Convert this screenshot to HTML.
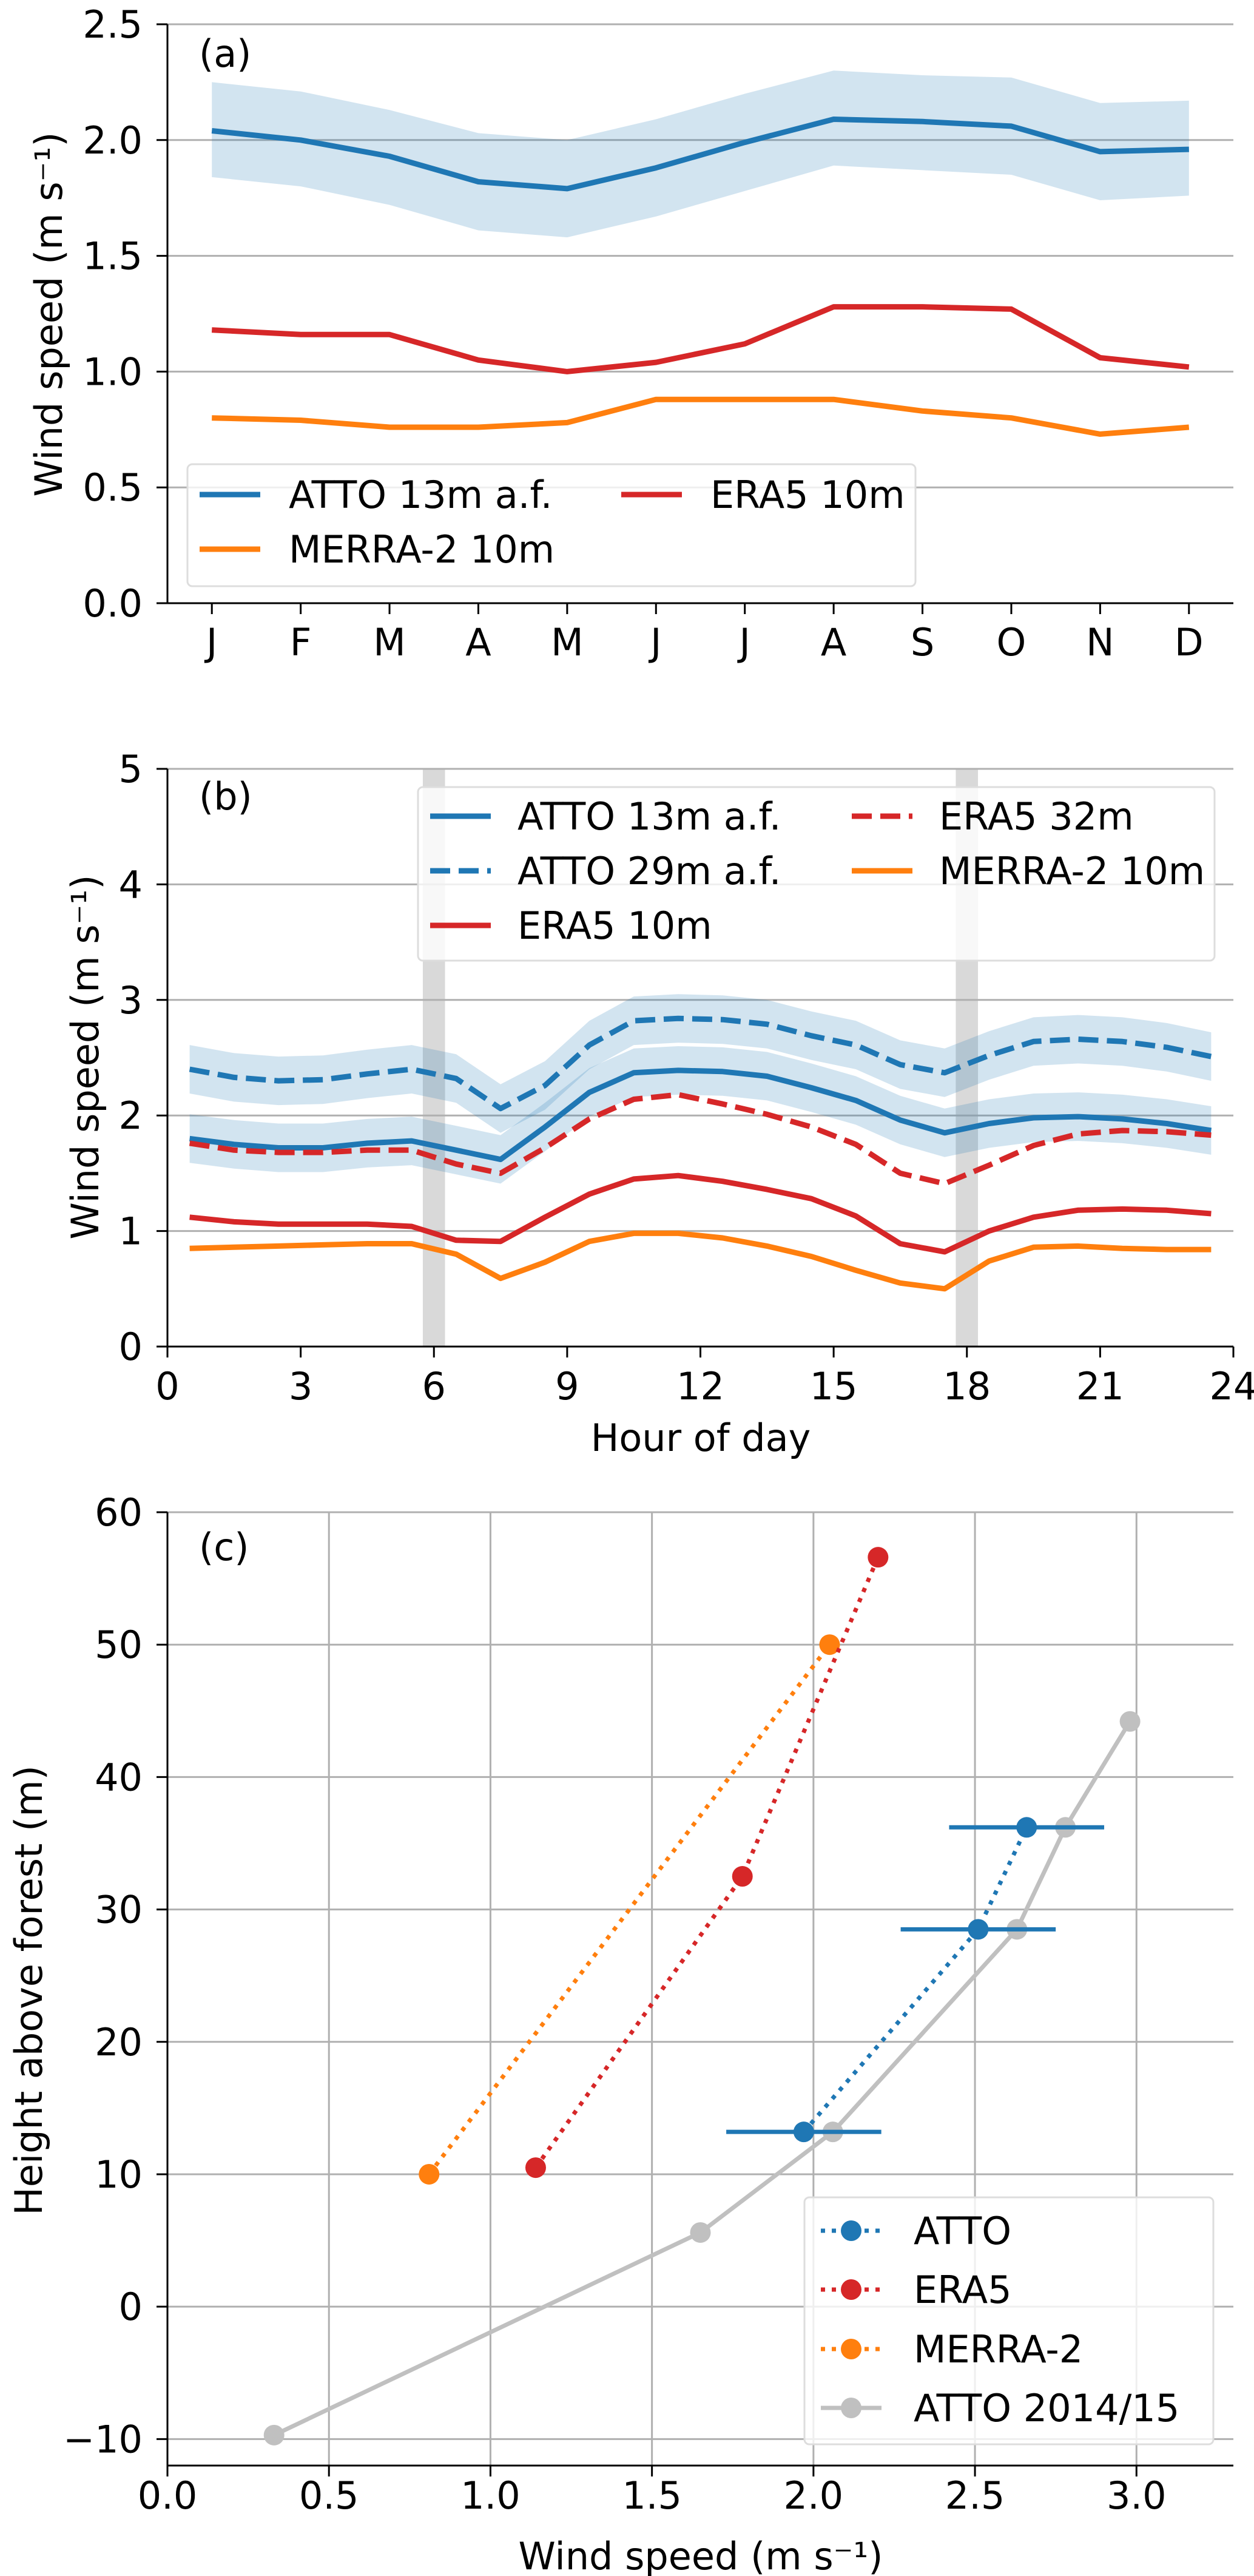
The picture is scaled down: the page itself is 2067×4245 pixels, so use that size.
<!DOCTYPE html>
<html><head><meta charset="utf-8">
<style>
html,body{margin:0;padding:0;background:#fff;}
svg{display:block;font-family:"DejaVu Sans","Liberation Sans",sans-serif;}
</style></head>
<body>
<svg id="fig" width="2067" height="4245" viewBox="0 0 2067 4245" xmlns="http://www.w3.org/2000/svg"></svg>
<script>
// ---- Panel (a) data ----
const months = ["J","F","M","A","M","J","J","A","S","O","N","D"];
const aAtto = [2.04,2.00,1.93,1.82,1.79,1.88,1.99,2.09,2.08,2.06,1.95,1.96];
const aAttoHi = [2.25,2.21,2.13,2.03,2.00,2.09,2.20,2.30,2.28,2.27,2.16,2.17];
const aAttoLo = [1.84,1.80,1.72,1.61,1.58,1.67,1.78,1.89,1.87,1.85,1.74,1.76];
const aEra10 = [1.18,1.16,1.16,1.05,1.00,1.04,1.12,1.28,1.28,1.27,1.06,1.02];
const aMerra = [0.80,0.79,0.76,0.76,0.78,0.88,0.88,0.88,0.83,0.80,0.73,0.76];
const aYTicks = [0,0.5,1.0,1.5,2.0,2.5];
// ---- Panel (b) data ----
const hours = [0.5,1.5,2.5,3.5,4.5,5.5,6.5,7.5,8.5,9.5,10.5,11.5,12.5,13.5,14.5,15.5,16.5,17.5,18.5,19.5,20.5,21.5,22.5,23.5];
const bAtto13 = [1.80,1.75,1.72,1.72,1.76,1.78,1.70,1.62,1.90,2.20,2.37,2.39,2.38,2.34,2.24,2.13,1.96,1.85,1.93,1.98,1.99,1.97,1.93,1.87];
const bAtto29 = [2.40,2.33,2.30,2.31,2.36,2.40,2.32,2.06,2.26,2.61,2.82,2.84,2.83,2.79,2.69,2.61,2.44,2.37,2.52,2.64,2.66,2.64,2.59,2.51];
const bAttoSpread = [0.21,0.21,0.21,0.21,0.21,0.21,0.21,0.21,0.21,0.21,0.21,0.21,0.21,0.21,0.21,0.21,0.21,0.21,0.21,0.21,0.21,0.21,0.21,0.21];
const bEra32 = [1.76,1.70,1.68,1.68,1.70,1.70,1.58,1.50,1.72,1.97,2.14,2.18,2.10,2.01,1.90,1.75,1.50,1.41,1.57,1.74,1.84,1.87,1.86,1.83];
const bEra10 = [1.12,1.08,1.06,1.06,1.06,1.04,0.92,0.91,1.12,1.32,1.45,1.48,1.43,1.36,1.28,1.13,0.89,0.82,1.00,1.12,1.18,1.19,1.18,1.15];
const bMerra = [0.85,0.86,0.87,0.88,0.89,0.89,0.80,0.59,0.73,0.91,0.98,0.98,0.94,0.87,0.78,0.66,0.55,0.50,0.74,0.86,0.87,0.85,0.84,0.84];
const bXTicks = [0,3,6,9,12,15,18,21,24];
const bYTicks = [0,1,2,3,4,5];
const bBands = [6,18];
// ---- Panel (c) data ----
const cAttoX = [1.97,2.51,2.66];
const cAttoY = [13.2,28.5,36.2];
const cAttoErrLo = [1.73,2.27,2.42];
const cAttoErrHi = [2.21,2.75,2.90];
const cEraX = [1.14,1.78,2.20];
const cEraY = [10.5,32.5,56.6];
const cMerraX = [0.81,2.05];
const cMerraY = [10,50];
const cOldX = [0.33,1.65,2.06,2.63,2.78,2.98];
const cOldY = [-9.7,5.6,13.2,28.5,36.2,44.2];
const cXTicks = [0,0.5,1.0,1.5,2.0,2.5,3.0];
const cYTicks = [-10,0,10,20,30,40,50,60];

const NS="http://www.w3.org/2000/svg";
const svg=document.getElementById('fig');
function el(tag,attrs,parent){const e=document.createElementNS(NS,tag);for(const k in attrs)e.setAttribute(k,attrs[k]);(parent||svg).appendChild(e);return e;}
function txt(s,attrs,parent){const e=el('text',attrs,parent);e.textContent=s;return e;}
const BLUE="#1f77b4",RED="#d62728",ORANGE="#ff7f0e",GREY="#c0c0c0",GRID="#b0b0b0";
const L=276,R=2033,FS=62,LW=9,TL=18;

function axes(x0,x1,y0,y1,top,bot){
  return {x:v=>L+(v-x0)/(x1-x0)*(R-L), y:v=>bot-(v-y0)/(y1-y0)*(bot-top)};
}
function poly(xs,ys,ax,attrs,g){
  const pts=xs.map((x,i)=>ax.x(x).toFixed(1)+","+ax.y(ys[i]).toFixed(1)).join(" ");
  return el('polyline',Object.assign({points:pts,fill:"none","stroke-linejoin":"round"},attrs),g);
}
function band(xs,lo,hi,ax,g){
  let p=xs.map((x,i)=>ax.x(x).toFixed(1)+","+ax.y(hi[i]).toFixed(1));
  for(let i=xs.length-1;i>=0;i--)p.push(ax.x(xs[i]).toFixed(1)+","+ax.y(lo[i]).toFixed(1));
  return el('polygon',{points:p.join(" "),fill:BLUE,"fill-opacity":0.2,stroke:"none"},g);
}

// ================= Panel (a) =================
{
const g=el('g',{});


const top=40,bot=994;
const ax=axes(-0.5,11.5,0,2.5,top,bot);
aYTicks.forEach(v=>{
  const y=ax.y(v);
  if(v>0){const gl=el('line',{x1:L,x2:R,y1:y,y2:y,stroke:GRID,"stroke-width":3},g);}
  el('line',{x1:L-TL,x2:L,y1:y,y2:y,stroke:"#000","stroke-width":3},g);
  const t=txt(v.toFixed(1),{x:L-41,y:y+22,"font-size":FS,"text-anchor":"end"},g);
  
});
months.forEach((m,i)=>{
  const x=ax.x(i);
  el('line',{x1:x,x2:x,y1:bot,y2:bot+TL,stroke:"#000","stroke-width":3},g);
  const t=txt(m,{x:x,y:1080,"font-size":FS,"text-anchor":"middle"},g);
  
});
const idx=months.map((m,i)=>i);
const b=band(idx,aAttoLo,aAttoHi,ax,g);
let s=poly(idx,aAtto,ax,{stroke:BLUE,"stroke-width":LW},g);
s=poly(idx,aEra10,ax,{stroke:RED,"stroke-width":LW},g);
s=poly(idx,aMerra,ax,{stroke:ORANGE,"stroke-width":LW},g);
el('line',{x1:L,x2:L,y1:top,y2:bot,stroke:"#000","stroke-width":3},g);
el('line',{x1:L,x2:R,y1:bot,y2:bot,stroke:"#000","stroke-width":3},g);
const pl=txt("(a)",{x:328,y:110,"font-size":FS},g);
const yl=txt("Wind speed (m s⁻¹)",{x:0,y:0,"font-size":FS,"text-anchor":"middle",transform:"translate(102,518) rotate(-90)"},g);

const lg=el('g',{},g);
el('rect',{x:309,y:765,width:1200,height:201,rx:8,fill:"#fff","fill-opacity":0.8,stroke:"#ddd","stroke-width":3},lg);
[[329,815,BLUE,"ATTO 13m a.f."],[1024,815,RED,"ERA5 10m"],[329,905,ORANGE,"MERRA-2 10m"]].forEach(e=>{
  const en=el('g',{},lg);
  el('line',{x1:e[0],x2:e[0]+100,y1:e[1],y2:e[1],stroke:e[2],"stroke-width":LW},en);
  txt(e[3],{x:e[0]+147,y:e[1]+22,"font-size":FS},en);
});
}

// ================= Panel (b) =================
{
const g=el('g',{});


const top=1267,bot=2219;
const ax=axes(0,24,0,5,top,bot);
bBands.forEach(h=>{
  const r=el('rect',{x:ax.x(h-0.25),y:top,width:ax.x(h+0.25)-ax.x(h-0.25),height:bot-top,fill:"#d9d9d9"},g);
  
});
bYTicks.forEach(v=>{
  const y=ax.y(v);
  if(v>0){const gl=el('line',{x1:L,x2:R,y1:y,y2:y,stroke:GRID,"stroke-width":3},g);}
  el('line',{x1:L-TL,x2:L,y1:y,y2:y,stroke:"#000","stroke-width":3},g);
  const t=txt(String(v),{x:L-41,y:y+22,"font-size":FS,"text-anchor":"end"},g);
  
});
bXTicks.forEach(v=>{
  const x=ax.x(v);
  el('line',{x1:x,x2:x,y1:bot,y2:bot+TL,stroke:"#000","stroke-width":3},g);
  const t=txt(String(v),{x:x,y:2306,"font-size":FS,"text-anchor":"middle"},g);
  
});
const lo13=bAtto13.map((v,i)=>v-bAttoSpread[i]),hi13=bAtto13.map((v,i)=>v+bAttoSpread[i]);
const lo29=bAtto29.map((v,i)=>v-bAttoSpread[i]),hi29=bAtto29.map((v,i)=>v+bAttoSpread[i]);
let b=band(hours,lo13,hi13,ax,g);
b=band(hours,lo29,hi29,ax,g);
let s=poly(hours,bAtto13,ax,{stroke:BLUE,"stroke-width":LW},g);
s=poly(hours,bAtto29,ax,{stroke:BLUE,"stroke-width":LW,"stroke-dasharray":"33 14"},g);
s=poly(hours,bEra32,ax,{stroke:RED,"stroke-width":LW,"stroke-dasharray":"33 14"},g);
s=poly(hours,bEra10,ax,{stroke:RED,"stroke-width":LW},g);
s=poly(hours,bMerra,ax,{stroke:ORANGE,"stroke-width":LW},g);
el('line',{x1:L,x2:L,y1:top,y2:bot,stroke:"#000","stroke-width":3},g);
el('line',{x1:L,x2:R,y1:bot,y2:bot,stroke:"#000","stroke-width":3},g);
const pl=txt("(b)",{x:328,y:1334,"font-size":FS},g);
const yl=txt("Wind speed (m s⁻¹)",{x:0,y:0,"font-size":FS,"text-anchor":"middle",transform:"translate(162,1742) rotate(-90)"},g);

const xl=txt("Hour of day",{x:1155,y:2391,"font-size":FS,"text-anchor":"middle"},g);

const lg=el('g',{},g);
el('rect',{x:689,y:1297,width:1313,height:286,rx:8,fill:"#fff","fill-opacity":0.8,stroke:"#ddd","stroke-width":3},lg);
[[709,1345,BLUE,"ATTO 13m a.f.",""],[709,1435,BLUE,"ATTO 29m a.f.","33 14"],[709,1525,RED,"ERA5 10m",""],[1404,1345,RED,"ERA5 32m","33 14"],[1404,1435,ORANGE,"MERRA-2 10m",""]].forEach(e=>{
  const en=el('g',{},lg);
  const a={x1:e[0],x2:e[0]+100,y1:e[1],y2:e[1],stroke:e[2],"stroke-width":LW};
  if(e[4])a["stroke-dasharray"]=e[4];
  el('line',a,en);
  txt(e[3],{x:e[0]+144,y:e[1]+22,"font-size":FS},en);
});
}

// ================= Panel (c) =================
{
const g=el('g',{});


const top=2492,bot=4063;
const ax=axes(0,3.3,-12,60,top,bot);
cYTicks.forEach(v=>{
  const y=ax.y(v);
  const gl=el('line',{x1:L,x2:R,y1:y,y2:y,stroke:GRID,"stroke-width":3},g);
  el('line',{x1:L-TL,x2:L,y1:y,y2:y,stroke:"#000","stroke-width":3},g);
  const t=txt(v<0?"−"+Math.abs(v):String(v),{x:L-41,y:y+22,"font-size":FS,"text-anchor":"end"},g);
  
});
cXTicks.forEach(v=>{
  const x=ax.x(v);
  const gl=el('line',{x1:x,x2:x,y1:top,y2:bot,stroke:GRID,"stroke-width":3},g);
  el('line',{x1:x,x2:x,y1:bot,y2:bot+TL,stroke:"#000","stroke-width":3},g);
  const t=txt(v.toFixed(1),{x:x,y:4134,"font-size":FS,"text-anchor":"middle"},g);
  
});
function pts(xs,ys,col,name){
  xs.forEach((x,i)=>{const c=el('circle',{cx:ax.x(x),cy:ax.y(ys[i]),r:17,fill:col},g);});
}
let s=poly(cOldX,cOldY,ax,{stroke:GREY,"stroke-width":7},g);
pts(cOldX,cOldY,GREY,'atto-2014-15-point');
s=poly(cMerraX,cMerraY,ax,{stroke:ORANGE,"stroke-width":7,"stroke-dasharray":"7 11"},g);
pts(cMerraX,cMerraY,ORANGE,'merra2-point');
s=poly(cEraX,cEraY,ax,{stroke:RED,"stroke-width":7,"stroke-dasharray":"7 11"},g);
pts(cEraX,cEraY,RED,'era5-point');
cAttoY.forEach((y,i)=>{const e=el('line',{x1:ax.x(cAttoErrLo[i]),x2:ax.x(cAttoErrHi[i]),y1:ax.y(y),y2:ax.y(y),stroke:BLUE,"stroke-width":7},g);});
s=poly(cAttoX,cAttoY,ax,{stroke:BLUE,"stroke-width":7,"stroke-dasharray":"7 11"},g);
pts(cAttoX,cAttoY,BLUE,'atto-point');
el('line',{x1:L,x2:L,y1:top,y2:bot,stroke:"#000","stroke-width":3},g);
el('line',{x1:L,x2:R,y1:bot,y2:bot,stroke:"#000","stroke-width":3},g);
const pl=txt("(c)",{x:328,y:2571,"font-size":FS},g);
const yl=txt("Height above forest (m)",{x:0,y:0,"font-size":FS,"text-anchor":"middle",transform:"translate(69,3280) rotate(-90)"},g);

const xl=txt("Wind speed (m s⁻¹)",{x:1155,y:4234,"font-size":FS,"text-anchor":"middle"},g);

const lg=el('g',{},g);
el('rect',{x:1326,y:3621,width:674,height:407,rx:8,fill:"#fff","fill-opacity":0.8,stroke:"#ddd","stroke-width":3},lg);
[[3676,BLUE,"ATTO",true],[3773,RED,"ERA5",true],[3871,ORANGE,"MERRA-2",true],[3968,GREY,"ATTO 2014/15",false]].forEach(e=>{
  const en=el('g',{},lg);
  const a={x1:1353,x2:1453,y1:e[0],y2:e[0],stroke:e[1],"stroke-width":7};
  if(e[3])a["stroke-dasharray"]="7 11";
  el('line',a,en);
  el('circle',{cx:1403,cy:e[0],r:17,fill:e[1]},en);
  txt(e[2],{x:1506,y:e[0]+22,"font-size":FS},en);
});
}
</script>
</body></html>
